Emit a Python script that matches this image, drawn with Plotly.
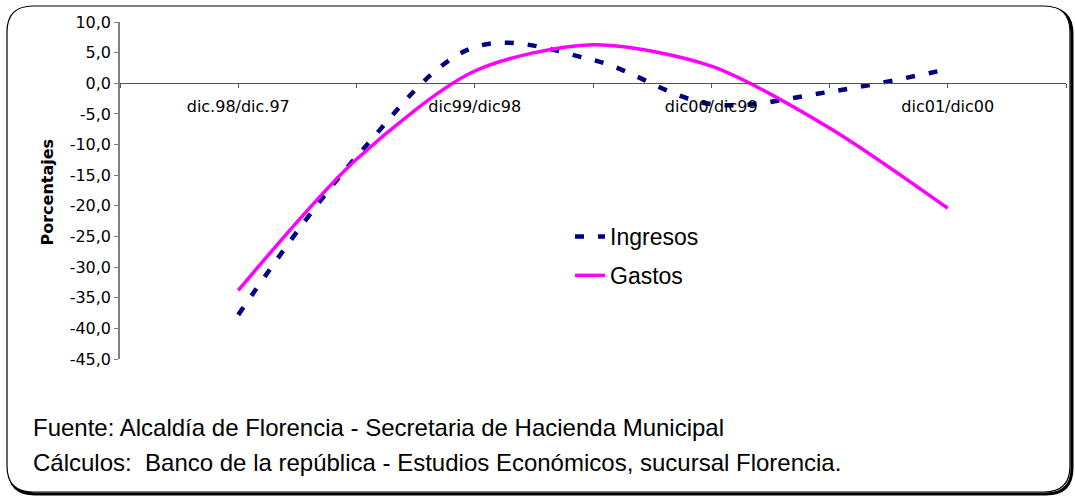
import plotly.graph_objects as go

# semestres (posiciones en el eje de categorías), etiquetas cada dos periodos
periodos = [1, 2, 3, 4, 5, 6, 7]
etiquetas_pos = [1, 3, 5, 7]
etiquetas = ["dic.98/dic.97", "dic99/dic98", "dic00/dic99", "dic01/dic00"]

ingresos = [-37.8, -12.0, 5.9, 3.8, -3.4, -1.4, 2.3]
gastos = [-33.8, -12.4, 2.0, 6.3, 2.8, -7.3, -20.4]

y_ticks = [10, 5, 0, -5, -10, -15, -20, -25, -30, -35, -40, -45]

W, H = 1075, 497
L, R, T, B = 120, 9, 22, 138
PW, PH = W - L - R, H - T - B


def px(x):
    return (x - L) / PW


def py(y):
    return 1 - (y - T) / PH


def rounded_box(x0, y0, x1, y1, r):
    pts = [
        ("M", x0 + r, y0), ("L", x1 - r, y0), ("Q", x1, y0, x1, y0 + r),
        ("L", x1, y1 - r), ("Q", x1, y1, x1 - r, y1), ("L", x0 + r, y1),
        ("Q", x0, y1, x0, y1 - r), ("L", x0, y0 + r), ("Q", x0, y0, x0 + r, y0),
    ]
    out = []
    for p in pts:
        cmd, coords = p[0], p[1:]
        xy = []
        for i in range(0, len(coords), 2):
            xy.append(f"{px(coords[i]):.5f},{py(coords[i + 1]):.5f}")
        out.append(cmd + " ".join(xy))
    return " ".join(out) + " Z"


fig = go.Figure()
fig.add_trace(go.Scatter(
    x=periodos, y=ingresos, name="Ingresos", mode="lines",
    line=dict(color="#000080", width=4.5, dash="9px,14px", shape="spline", smoothing=1.0),
    legendgroup="a",
))
fig.add_trace(go.Scatter(
    x=periodos, y=gastos, name="Gastos", mode="lines",
    line=dict(color="#FF00FF", width=3.5, shape="spline", smoothing=0.8),
    legendgroup="b",
))

tick_vals_x = list(range(0, 9))
tick_text_x = ["" for _ in tick_vals_x]
for p, lab in zip(etiquetas_pos, etiquetas):
    tick_text_x[p] = lab

fig.update_xaxes(
    range=[0, 8], tickvals=tick_vals_x, ticktext=tick_text_x,
    anchor="free", position=45 / 55, showline=True, linecolor="#555555", linewidth=1.2,
    ticks="outside", ticklen=4, tickcolor="#555555", showgrid=False, zeroline=False,
    tickfont=dict(family="DejaVu Sans", size=16, color="#000000"), ticklabelstandoff=4,
)
fig.update_yaxes(
    range=[-45, 10], tickvals=y_ticks,
    ticktext=[f"{v:.1f}".replace(".", ",") for v in y_ticks],
    showline=True, linecolor="#808080", linewidth=1.5, ticks="outside", ticklen=4,
    tickcolor="#808080", showgrid=False, zeroline=False,
    tickfont=dict(family="DejaVu Sans", size=16, color="#000000"),
)

fig.update_layout(
    width=W, height=H, margin=dict(l=L, r=R, t=T, b=B),
    plot_bgcolor="white", paper_bgcolor="white",
    legend=dict(x=px(570), y=py(215), xanchor="left", yanchor="top",
                font=dict(family="Liberation Sans", size=23, color="#000000"),
                tracegroupgap=6, bgcolor="rgba(0,0,0,0)"),
    shapes=[
        dict(type="path", xref="paper", yref="paper", path=rounded_box(9, 8, 1072, 494, 26),
             line=dict(color="#000000", width=3), layer="below"),
        dict(type="path", xref="paper", yref="paper", path=rounded_box(7, 6, 1070, 492, 26),
             line=dict(color="#000000", width=1.2), fillcolor="white", layer="below"),
    ],
    annotations=[
        dict(text="<b>Porcentajes</b>", x=px(35), y=py(192), xref="paper", yref="paper",
             textangle=-90, showarrow=False, font=dict(family="DejaVu Sans", size=16, color="#000000")),
        dict(text="Fuente: Alcaldía de Florencia - Secretaria de Hacienda Municipal",
             x=px(31), y=py(427), xref="paper", yref="paper", xanchor="left", yanchor="middle",
             showarrow=False, font=dict(family="Liberation Sans", size=24, color="#000000")),
        dict(text="Cálculos:  Banco de la república - Estudios Económicos, sucursal Florencia.",
             x=px(31), y=py(462), xref="paper", yref="paper", xanchor="left", yanchor="middle",
             showarrow=False, font=dict(family="Liberation Sans", size=24, color="#000000")),
    ],
)

fig.write_html("out.html", config={"displayModeBar": False},
               post_script="document.body.style.margin='0';")
